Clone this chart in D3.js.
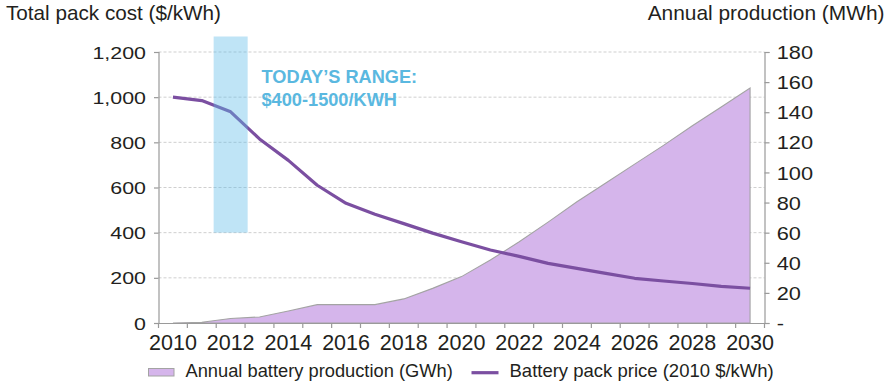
<!DOCTYPE html>
<html>
<head>
<meta charset="utf-8">
<script src="https://cdn.jsdelivr.net/npm/d3@7"></script>
<style>
  html, body { margin: 0; padding: 0; background: #fff; }
  svg { display: block; font-family: "Liberation Sans", Arial, Helvetica, sans-serif; }
</style>
</head>
<body>
<svg id="chart" width="890" height="386"></svg>
<script>
// Years on the category axis
const years = [2010, 2011, 2012, 2013, 2014, 2015, 2016, 2017, 2018, 2019, 2020,
               2021, 2022, 2023, 2024, 2025, 2026, 2027, 2028, 2029, 2030];
// Battery pack price, 2010 $/kWh (left axis)
const packPrice = [1000, 985, 935, 815, 720, 610, 530, 482, 440, 398, 360,
                   323, 295, 264, 242, 220, 198, 186, 175, 162, 154];
// Annual battery production, GWh (right axis)
const production = [0, 0.5, 3, 4, 8, 12.2, 12.2, 12.2, 16, 23, 30.8,
                    41.8, 54, 67, 80.5, 93, 105.5, 118, 131, 143.5, 156];
// Axis ticks
const leftTicks = [0, 200, 400, 600, 800, 1000, 1200];
const rightTicks = [0, 20, 40, 60, 80, 100, 120, 140, 160, 180];
const labelYears = [2010, 2012, 2014, 2016, 2018, 2020, 2022, 2024, 2026, 2028, 2030];
// Current price range annotation ($/kWh)
const todayRange = [400, 1500];
const todayYear = 2012;

const svg = d3.select("#chart");
const plot = { left: 158.5, right: 764.5, top: 52, bottom: 323 };

const x = d3.scaleBand().domain(years).range([plot.left, plot.right]).padding(0);
const bw = x.bandwidth();
const cx = d => x(d) + bw / 2;
const yL = d3.scaleLinear().domain([0, 1200]).range([plot.bottom, plot.top]);
const yR = d3.scaleLinear().domain([0, 180]).range([plot.bottom, plot.top]);

const axisColor = "#9a9a9a";
const textColor = "#231f20";
const priceColor = "#7b4fa1";
const areaColor = "#d5b5eb";
const blue = "#5fbce8";

// Dashed gridlines from the left axis
svg.append("g")
  .selectAll("line")
  .data(leftTicks.filter(d => d > 0))
  .join("line")
  .attr("x1", plot.left).attr("x2", plot.right)
  .attr("y1", d => yL(d)).attr("y2", d => yL(d))
  .attr("stroke", "#cfcfcf").attr("stroke-width", 1)
  .attr("stroke-dasharray", "3,2");

// Production area (right axis)
const area = d3.area()
  .x((d, i) => cx(years[i]))
  .y0(yR(0))
  .y1(d => yR(d));
svg.append("path")
  .datum(production)
  .attr("d", area)
  .attr("fill", areaColor)
  .attr("stroke", "#a3a3a3")
  .attr("stroke-width", 1.1);

// Price line (left axis)
const line = d3.line()
  .x((d, i) => cx(years[i]))
  .y(d => yL(d));
svg.append("path")
  .datum(packPrice)
  .attr("d", line)
  .attr("fill", "none")
  .attr("stroke", priceColor)
  .attr("stroke-width", 3.2)
  .attr("stroke-linejoin", "round");

// Today's range band
svg.append("clipPath").attr("id", "bandClip")
  .append("rect").attr("x", 0).attr("y", 36.5).attr("width", 890).attr("height", 350);
svg.append("rect")
  .attr("clip-path", "url(#bandClip)")
  .attr("x", cx(todayYear) - 17)
  .attr("width", 34)
  .attr("y", yL(todayRange[1]))
  .attr("height", yL(todayRange[0]) - yL(todayRange[1]))
  .attr("fill", blue)
  .attr("fill-opacity", 0.4);

const note = svg.append("text")
  .attr("x", 261.5).attr("y", 83.3)
  .attr("fill", "#5ab8e0")
  .attr("font-size", 18.2)
  .attr("font-weight", "bold");
note.append("tspan").attr("x", 261.5).text("TODAY\u2019S RANGE:");
note.append("tspan").attr("x", 261.5).attr("dy", 22.7)
  .text(`$${todayRange[0]}-${todayRange[1]}/KWH`);

// Left axis
const gL = svg.append("g")
  .attr("transform", `translate(${plot.left},0)`)
  .call(d3.axisLeft(yL).tickValues(leftTicks).tickSize(4.5).tickFormat(d3.format(",")));
gL.select(".domain").attr("stroke", axisColor).attr("stroke-width", 1.2);
gL.selectAll(".tick line").attr("stroke", axisColor).attr("stroke-width", 1.2);
gL.selectAll(".tick text")
  .attr("x", null).attr("dy", "0.36em")
  .attr("transform", "translate(-12.5,0) scale(1.26,1)")
  .attr("font-size", 17).attr("fill", textColor)
  .attr("font-family", "Liberation Sans, Arial, sans-serif");

// Right axis
const gR = svg.append("g")
  .attr("transform", `translate(${plot.right},0)`)
  .call(d3.axisRight(yR).tickValues(rightTicks).tickSize(5)
    .tickFormat(d => d === 0 ? "-" : d3.format(",")(d)));
gR.select(".domain").attr("stroke", axisColor).attr("stroke-width", 1.2);
gR.selectAll(".tick line").attr("stroke", axisColor).attr("stroke-width", 1.2);
gR.selectAll(".tick text")
  .attr("x", null).attr("dy", "0.36em")
  .attr("transform", "translate(12.2,0) scale(1.19,1)")
  .attr("font-size", 18.3).attr("fill", textColor)
  .attr("font-family", "Liberation Sans, Arial, sans-serif");

// Bottom category axis: ticks on band boundaries, labels every other year
const gX = svg.append("g")
  .attr("transform", `translate(0,${plot.bottom})`)
  .call(d3.axisBottom(x).tickSize(0).tickSizeOuter(0)
    .tickFormat(d => labelYears.includes(d) ? d : ""));
gX.select(".domain").attr("stroke", axisColor).attr("stroke-width", 1.2);
gX.selectAll(".tick text")
  .attr("y", 11.5).attr("dy", "0.71em")
  .attr("font-size", 21.5).attr("fill", textColor)
  .attr("font-family", "Liberation Sans, Arial, sans-serif");
gX.selectAll(".boundary")
  .data(years.map(d => x(d)).concat([plot.right]))
  .join("line")
  .attr("class", "boundary")
  .attr("x1", d => d).attr("x2", d => d)
  .attr("y1", 0).attr("y2", 5)
  .attr("stroke", axisColor).attr("stroke-width", 1.2);

// Axis titles
svg.append("text")
  .attr("x", 6).attr("y", 20)
  .attr("font-size", 20.7).attr("fill", textColor)
  .text("Total pack cost ($/kWh)");
svg.append("text")
  .attr("x", 884.5).attr("y", 20)
  .attr("text-anchor", "end")
  .attr("font-size", 20.9).attr("fill", textColor)
  .text("Annual production (MWh)");

// Legend
const lg = svg.append("g");
lg.append("rect")
  .attr("x", 148.5).attr("y", 368.5).attr("width", 25.5).attr("height", 7.5)
  .attr("fill", areaColor).attr("stroke", "#a3a3a3").attr("stroke-width", 1);
lg.append("text")
  .attr("x", 185.5).attr("y", 376.7)
  .attr("font-size", 18.3).attr("fill", textColor)
  .text("Annual battery production (GWh)");
lg.append("line")
  .attr("x1", 471.5).attr("x2", 498.5)
  .attr("y1", 372.7).attr("y2", 372.7)
  .attr("stroke", priceColor).attr("stroke-width", 3.2);
lg.append("text")
  .attr("x", 509.5).attr("y", 376.7)
  .attr("font-size", 18.5).attr("fill", textColor)
  .text("Battery pack price (2010 $/kWh)");
</script>
</body>
</html>
